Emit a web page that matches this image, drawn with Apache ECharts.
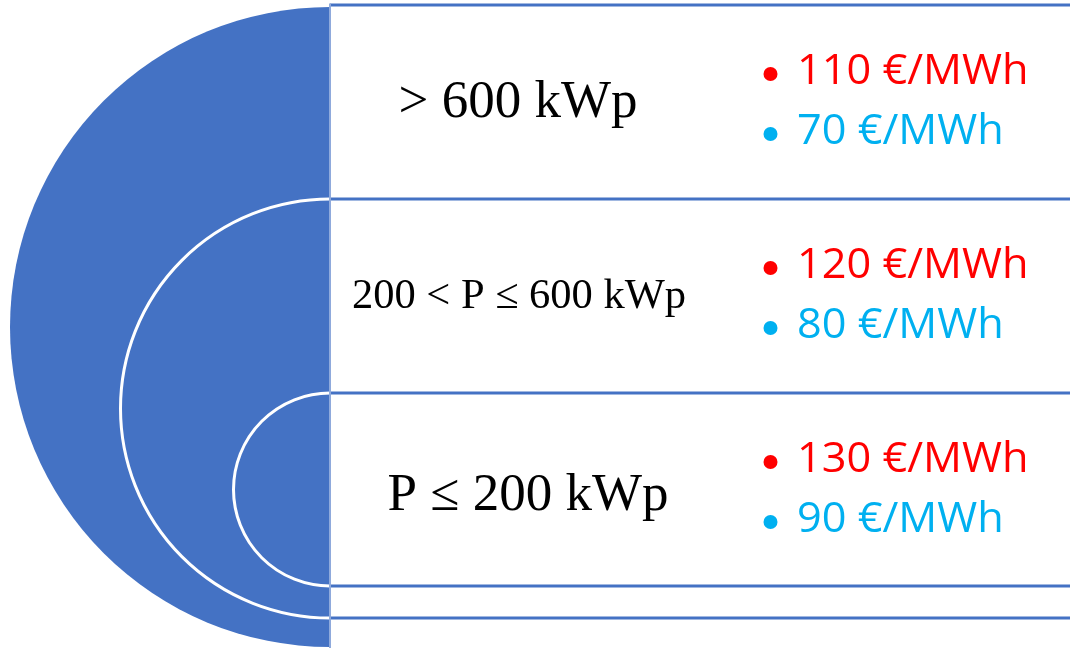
<!DOCTYPE html>
<html>
<head>
<meta charset="utf-8">
<script src="https://cdn.jsdelivr.net/npm/echarts@6/dist/echarts.min.js"></script>
<style>
  html, body { margin: 0; padding: 0; background: #ffffff; }
  #chart { width: 1070px; height: 648px; }
</style>
</head>
<body>
<div id="chart"></div>
<script>
// Capacity tiers and their feed-in tariffs
const tiers = ['> 600 kWp', '200 < P ≤ 600 kWp', 'P ≤ 200 kWp'];
const highTariff = [110, 120, 130];
const lowTariff = [70, 80, 90];
const unit = '€/MWh';

// Layout, in plot units (the axes map one unit to one pixel)
const W = 1070, H = 648;
const SPLIT_X = 330;                 // straight edge of the half discs
const ROW_TOP = 5, ROW_H = 194;      // tier rows on the right
const ARC_TOP = [7, 199, 393];
const ARC_BOTTOM = [647, 618, 586];
const DIVIDERS = [5, 199, 393, 586, 618];
const LABEL_X = [518, 519, 528];
const LABEL_Y = [103, 297, 496];
const LABEL_SIZE = [53, 42.5, 53];
const TARIFF_X = 797, BULLET_X = 770.5;
const HIGH_DY = 67, LOW_DY = 127;

const BLUE = '#4472C4';
const RED = '#FF0000';
const CYAN = '#00B0F0';

const chart = echarts.init(document.getElementById('chart'), null, { renderer: 'canvas' });

function renderRing(params, api) {
  const i = params.dataIndex;
  const top = api.coord([SPLIT_X, ARC_TOP[i]]);
  const bottom = api.coord([SPLIT_X, ARC_BOTTOM[i]]);
  const cx = top[0];
  const cy = (top[1] + bottom[1]) / 2;
  const r = (bottom[1] - top[1]) / 2;
  const children = [{
    type: 'sector',
    shape: { cx, cy, r0: 0, r, startAngle: Math.PI / 2, endAngle: Math.PI * 1.5, clockwise: true },
    style: { fill: BLUE }
  }];
  if (i > 0) {
    children.push({
      type: 'arc',
      shape: { cx, cy, r, startAngle: Math.PI / 2, endAngle: Math.PI * 1.5, clockwise: true },
      style: { stroke: '#ffffff', lineWidth: 3, fill: null }
    });
  }
  return { type: 'group', children };
}

function renderFrame(params, api) {
  const i = params.dataIndex;
  const y = DIVIDERS[i];
  const a = api.coord([SPLIT_X, y]);
  const b = api.coord([W, y]);
  const children = [{
    type: 'line',
    shape: { x1: a[0], y1: a[1], x2: b[0], y2: b[1] },
    style: { stroke: BLUE, lineWidth: 3 }
  }];
  if (i === DIVIDERS.length - 1) {
    const v0 = api.coord([SPLIT_X, DIVIDERS[0] - 1.5]);
    const v1 = api.coord([SPLIT_X, H]);
    children.push({
      type: 'line',
      shape: { x1: v0[0], y1: v0[1], x2: v1[0], y2: v1[1] },
      style: { stroke: '#8FAADC', lineWidth: 2 }
    });
  }
  return { type: 'group', children };
}

function renderLabels(params, api) {
  const i = params.dataIndex;
  const rowTop = ROW_TOP + ROW_H * i;
  const lp = api.coord([LABEL_X[i], LABEL_Y[i]]);
  const hp = api.coord([TARIFF_X, rowTop + HIGH_DY]);
  const lo = api.coord([TARIFF_X, rowTop + LOW_DY]);
  const hb = api.coord([BULLET_X, rowTop + HIGH_DY + 2]);
  const lb = api.coord([BULLET_X, rowTop + LOW_DY + 2]);
  const tariffText = (v, color, p) => ({
    type: 'text',
    x: p[0], y: p[1], scaleX: 1.03,
    style: {
      text: v + ' ' + unit, fill: color,
      fontFamily: '"Open Sans", sans-serif', fontSize: 42,
      align: 'left', verticalAlign: 'middle'
    }
  });
  return {
    type: 'group',
    children: [
      {
        type: 'text',
        x: lp[0], y: lp[1],
        style: {
          text: tiers[i], fill: '#000000',
          fontFamily: '"Liberation Serif", "Times New Roman", serif', fontSize: LABEL_SIZE[i],
          align: 'center', verticalAlign: 'middle'
        }
      },
      { type: 'circle', shape: { cx: hb[0], cy: hb[1], r: 7 }, style: { fill: RED } },
      { type: 'circle', shape: { cx: lb[0], cy: lb[1], r: 7 }, style: { fill: CYAN } },
      tariffText(highTariff[i], RED, hp),
      tariffText(lowTariff[i], CYAN, lo)
    ]
  };
}

chart.setOption({
  animation: false,
  backgroundColor: '#ffffff',
  tooltip: { show: false },
  grid: { left: 0, right: 0, top: 0, bottom: 0, containLabel: false },
  xAxis: { type: 'value', min: 0, max: W, show: false },
  yAxis: { type: 'value', min: 0, max: H, inverse: true, show: false },
  series: [
    {
      name: 'rings', type: 'custom', renderItem: renderRing,
      data: tiers.map((t, i) => [i, i]), z: 1, silent: true
    },
    {
      name: 'frame', type: 'custom', renderItem: renderFrame,
      data: DIVIDERS.map((y, i) => [i, y]), z: 2, silent: true
    },
    {
      name: 'labels', type: 'custom', renderItem: renderLabels,
      data: tiers.map((t, i) => [i, highTariff[i], lowTariff[i]]), z: 3, silent: true
    }
  ]
});
</script>
</body>
</html>
